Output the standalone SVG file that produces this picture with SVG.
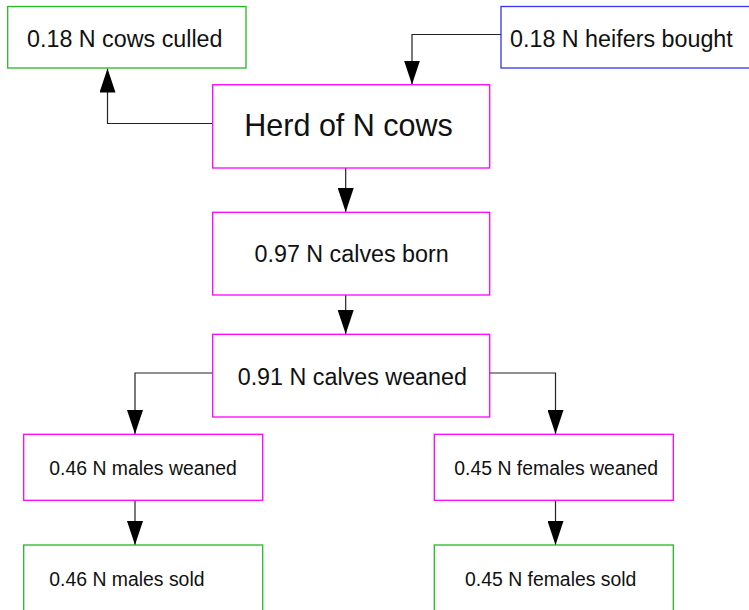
<svg xmlns="http://www.w3.org/2000/svg" width="749" height="610" viewBox="0 0 749 610">
  <style>
    .box { fill: #ffffff; stroke-width: 1.3; }
    .pink { stroke: #ff00ff; }
    .green { stroke: #22bb22; }
    .blue { stroke: #3535f0; }
    text { font-family: "Liberation Sans", Arial, sans-serif; fill: #111111; }
    .mid { font-size: 23.3px; }
    .small { font-size: 19.4px; }
    .big { font-size: 30.5px; }
    .conn { fill: none; stroke: #222222; stroke-width: 1.2; marker-end: url(#arrow); }
  </style>
  <defs>
    <marker id="arrow" markerUnits="userSpaceOnUse" markerWidth="24" markerHeight="16" viewBox="0 0 24 16" refX="24" refY="8" orient="auto">
      <polygon points="0,0 24,8 0,16" fill="#000000"/>
    </marker>
  </defs>
  <rect width="749" height="610" fill="#ffffff"/>

  <g id="connectors">
    <path class="conn" d="M212.7,123.5 H107.5 V68.5"/>
    <path class="conn" d="M501,34.5 H412 V84.5"/>
    <path class="conn" d="M345.7,168 V212"/>
    <path class="conn" d="M345.7,295 V334"/>
    <path class="conn" d="M212.7,373 H135 V434"/>
    <path class="conn" d="M489.7,373 H555.5 V434"/>
    <path class="conn" d="M135,500 V545"/>
    <path class="conn" d="M555.5,500 V545"/>
  </g>

  <g id="cows-culled">
    <rect class="box green" x="7.7" y="6.5" width="238.3" height="61.5"/>
    <text class="mid" x="27" y="46.7">0.18 N cows culled</text>
  </g>
  <g id="heifers-bought">
    <rect class="box blue" x="501" y="6.5" width="260" height="61.5"/>
    <text class="mid" x="510" y="46.7">0.18 N heifers bought</text>
  </g>
  <g id="herd">
    <rect class="box pink" x="212.7" y="84.7" width="277" height="83.3"/>
    <text class="big" x="244.3" y="136">Herd of N cows</text>
  </g>
  <g id="calves-born">
    <rect class="box pink" x="212.7" y="212.3" width="277" height="82.7"/>
    <text class="mid" x="254.5" y="262.3">0.97 N calves born</text>
  </g>
  <g id="calves-weaned">
    <rect class="box pink" x="212.7" y="334.3" width="277" height="82.7"/>
    <text class="mid" x="237.7" y="385">0.91 N calves weaned</text>
  </g>
  <g id="males-weaned">
    <rect class="box pink" x="23.7" y="434.3" width="239" height="66"/>
    <text class="small" x="49.3" y="475">0.46 N males weaned</text>
  </g>
  <g id="females-weaned">
    <rect class="box pink" x="434.3" y="434.3" width="239" height="66"/>
    <text class="small" x="454.3" y="475">0.45 N females weaned</text>
  </g>
  <g id="males-sold">
    <rect class="box green" x="23.7" y="545" width="239" height="80"/>
    <text class="small" x="49.3" y="586">0.46 N males sold</text>
  </g>
  <g id="females-sold">
    <rect class="box green" x="434.3" y="545" width="239" height="80"/>
    <text class="small" x="465" y="586">0.45 N females sold</text>
  </g>
</svg>
